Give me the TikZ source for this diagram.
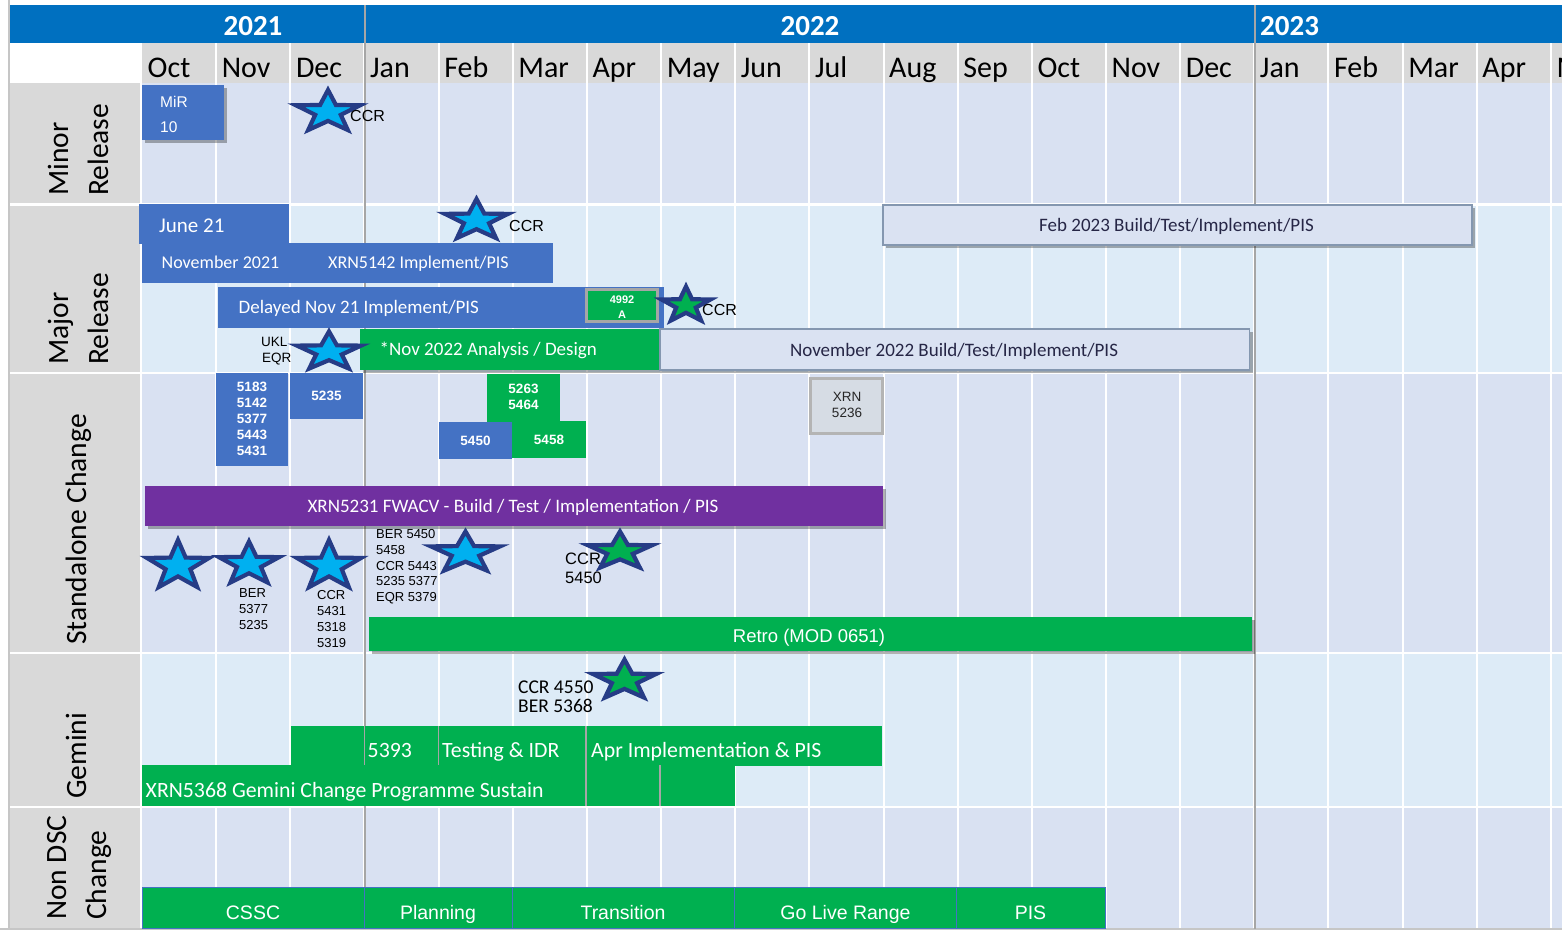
\documentclass[tikz,border=0pt]{standalone}
\usepackage{fontspec}
\setmainfont{Carlito}
\newfontfamily\arialf{Liberation Sans}
\usetikzlibrary{shadows}

\definecolor{yearblue}{HTML}{0070C0}
\definecolor{hdrgray}{HTML}{D9D9D9}
\definecolor{rowA}{HTML}{D9E1F2}
\definecolor{rowB}{HTML}{DDEBF7}
\definecolor{barblue}{HTML}{4472C4}
\definecolor{bargreen}{HTML}{00B050}
\definecolor{barpurple}{HTML}{7030A0}
\definecolor{starnavy}{HTML}{263C86}
\definecolor{starcyan}{HTML}{00B0F0}
\definecolor{lightbox}{HTML}{DAE2F2}
\definecolor{lightedge}{HTML}{8497B0}
\definecolor{darktext}{HTML}{262646}
\definecolor{yearline}{HTML}{A6A6A6}
\definecolor{xrnfill}{HTML}{D6DCE4}
\definecolor{xrnedge}{HTML}{B4B4B4}

\tikzset{
  ctext/.style={font={\fontsize{#1}{#1}\selectfont}, inner sep=0pt},
  atext/.style={font={\arialf\fontsize{#1}{#1}\selectfont}, inner sep=0pt},
  abold/.style={font={\arialf\bfseries\fontsize{#1}{#1}\selectfont}, inner sep=0pt},
  monthlab/.style={ctext=30, anchor=base west},
  yearlab/.style={font={\bfseries\fontsize{29}{29}\selectfont}, inner sep=0pt, text=white},
  rowlab/.style={ctext=29.5, rotate=90, anchor=base west},
  sh/.style={drop shadow={shadow xshift=3pt, shadow yshift=-3pt, opacity=0.3, fill=black}},
  starshape/.style={draw=starnavy, line width=4.2pt, line join=miter},
  gridw/.style={white, line width=2pt},
}

\def\sr{0.40}
\newcommand\drawstar[5]{%
  \begin{scope}[shift={(#1,#2)}, xscale=#3/1.902, yscale=#4/1.809, shift={(0,0.0955)}]
    \draw[starshape, fill=#5] (-90:1) -- (-54:\sr) -- (-18:1) -- (18:\sr) -- (54:1) -- (90:\sr)
      -- (126:1) -- (162:\sr) -- (198:1) -- (234:\sr) -- cycle;
  \end{scope}}

\begin{document}
\begin{tikzpicture}[x=1pt, y=-1pt]
\useasboundingbox (0,0) rectangle (1562,930);
\clip (0,0) rectangle (1562,930);
\fill[white] (0,0) rectangle (1562,930);

% ---------- backgrounds ----------
\fill[yearblue] (10,5) rectangle (1562,43);
\fill[hdrgray] (142,43) rectangle (1562,83);
\fill[hdrgray] (10,83) rectangle (141,928);
\fill[rowA] (142,83) rectangle (1562,204.5);
\fill[rowB] (142,204.5) rectangle (1562,373);
\fill[rowA] (142,373) rectangle (1562,653);
\fill[rowB] (142,653) rectangle (1562,807);
\fill[rowA] (142,807) rectangle (1562,928);
\draw[gray!45, line width=2pt] (0,929) -- (1562,929);
\draw[gray!45, line width=1.2pt] (9,0) -- (9,930);

% grid
\foreach \k in {1,...,19} \draw[gridw] ({142+74.15*\k},43) -- ({142+74.15*\k},928);
\draw[gridw] (141,83) -- (141,928);
\foreach \yy in {204.5,373,653,807} \draw[white, line width=2.5pt] (10,\yy) -- (1562,\yy);
\draw[yearline, line width=2pt] (364.5,5) -- (364.5,929);
\draw[yearline, line width=2pt] (1254.5,5) -- (1254.5,929);

% ---------- header text ----------
\node[yearlab, anchor=base] (y2021) at (253,35) {2021};
\node[yearlab, anchor=base] (y2022) at (810,35) {2022};
\node[yearlab, anchor=base west] (y2023) at (1260,35) {2023};
\foreach \m [count=\i from 0] in {Oct,Nov,Dec,Jan,Feb,Mar,Apr,May,Jun,Jul,Aug,Sep,Oct,Nov,Dec,Jan,Feb,Mar,Apr,May}
  \node[monthlab] (mon\i) at ({142+74.15*\i+5.5},77) {\m};

% ---------- row labels ----------
\node[rowlab] (rlminA) at (68,196) {Minor};
\node[rowlab] (rlminB) at (108,196) {Release};
\node[rowlab] (rlmajA) at (68,365) {Major};
\node[rowlab] (rlmajB) at (108,365) {Release};
\node[rowlab] (rlstd) at (86,645) {Standalone Change};
\node[rowlab] (rlgem) at (86,799) {Gemini};
\node[rowlab] (rlnonA) at (66,920) {Non DSC};
\node[rowlab] (rlnonB) at (106,920) {Change};

% ---------- Minor release ----------
\path[fill=barblue, sh] (142,85) rectangle (224,140);
\node[atext=15.5, text=white, anchor=base west] (mirA) at (160,107.5) {MiR};
\node[atext=15.5, text=white, anchor=base west] (mirB) at (160,132.5) {10};

% ---------- Major release ----------
\path[fill=lightbox, draw=lightedge, line width=1.2pt, sh] (883,205) rectangle (1472,245);
\node[ctext=19, text=darktext, anchor=base] (feb23) at (1176.5,231.5) {Feb 2023 Build/Test/Implement/PIS};
\fill[barblue] (139,204) rectangle (289,243.5);
\fill[barblue] (142,243) rectangle (553,283);
\node[ctext=21, text=white, anchor=base west] (jun21) at (159,232) {June 21};
\node[ctext=18, text=white, anchor=base west] (nov21) at (161.5,268.5) {November 2021};
\node[ctext=18, text=white, anchor=base west] (xrn5142) at (328,268.5) {XRN5142 Implement/PIS};
\fill[barblue] (218,287) rectangle (664,328);
\node[ctext=19, text=white, anchor=base west] (delayed) at (238.5,313) {Delayed Nov 21 Implement/PIS};
\path[fill=bargreen, draw=yearline, line width=3pt] (586.5,289.5) rectangle (657.5,321.5);
\node[abold=11, text=white, anchor=base] (b4992) at (622,303) {4992};
\node[abold=11, text=white, anchor=base] (b4992a) at (622,318) {A};
\path[fill=bargreen, sh] (360,329) rectangle (660,370);
\path[fill=lightbox, draw=lightedge, line width=1.2pt, sh] (660,329) rectangle (1249.5,370);
\node[ctext=19, text=white, anchor=base west] (nov22a) at (379.5,355) {*Nov 2022 Analysis / Design};
\node[ctext=19, text=darktext, anchor=base] (nov22b) at (954,356) {November 2022 Build/Test/Implement/PIS};

% ---------- Standalone change ----------
\fill[barblue] (216,373) rectangle (288,466);
\fill[barblue] (290,373) rectangle (363,419);
\fill[bargreen] (487,374) rectangle (560,422);
\fill[barblue] (439,422) rectangle (512,459);
\fill[bargreen] (512,421) rectangle (586,458);
\foreach \t [count=\i from 0] in {5183,5142,5377,5443,5431}
  \node[abold=13.5, text=white, anchor=base] (sb\i) at (252,{391.8+15.8*\i}) {\t};
\node[abold=13.5, text=white, anchor=base] (s5235) at (326.5,400) {5235};
\node[abold=13.5, text=white, anchor=base] (s5263) at (523.5,393.8) {5263};
\node[abold=13.5, text=white, anchor=base] (s5464) at (523.5,409.6) {5464};
\node[abold=13.5, text=white, anchor=base] (s5450) at (475.5,445.5) {5450};
\node[abold=13.5, text=white, anchor=base] (s5458) at (549,444) {5458};
\path[fill=xrnfill, draw=xrnedge, line width=3pt] (810.5,378.5) rectangle (882.5,433.5);
\node[atext=13.5, text=black!85, anchor=base] (xrnA) at (847,401.6) {XRN};
\node[atext=13.5, text=black!85, anchor=base] (xrnB) at (847,417.6) {5236};
\path[fill=barpurple, sh] (145,486) rectangle (883,526);
\node[ctext=19, text=white, anchor=base] (fwacv) at (513,512) {XRN5231 FWACV - Build / Test / Implementation / PIS};
\path[fill=bargreen, sh] (369,617) rectangle (1252,651);
\node[atext=18.5, text=white, anchor=base] (retro) at (809,642.6) {Retro (MOD 0651)};

% ---------- Gemini ----------
\fill[bargreen] (291,726) rectangle (882,765.5);
\fill[bargreen] (142,765) rectangle (735,806);
\draw[yearline, line width=1.5pt] (364.5,726) -- (364.5,765);
\draw[yearline, line width=1.5pt] (438.5,726) -- (438.5,765);
\draw[yearline, line width=1.5pt] (586,726) -- (586,806);
\draw[yearline, line width=1.5pt] (660,765) -- (660,806);
\node[ctext=21.8, text=white, anchor=base west] (g5393) at (367.5,757) {5393};
\node[ctext=21.8, text=white, anchor=base west] (gtest) at (442,757) {Testing \& IDR};
\node[ctext=21.8, text=white, anchor=base west] (gapr) at (591,757) {Apr Implementation \& PIS};
\node[ctext=21.8, text=white, anchor=base west] (gxrn) at (145.5,797) {XRN5368 Gemini Change Programme Sustain};

% ---------- Non DSC ----------
\path[fill=bargreen, draw=barblue, line width=1pt] (142,887) rectangle (1105,928);
\foreach \xx in {364.5,512.5,734.5,956.5} \draw[barblue, line width=1pt] (\xx,887) -- (\xx,928);
\node[atext=19.5, text=white, anchor=base] (ncssc) at (253,919) {CSSC};
\node[atext=19.5, text=white, anchor=base] (nplan) at (438,919) {Planning};
\node[atext=19.5, text=white, anchor=base] (ntrans) at (623,919) {Transition};
\node[atext=19.5, text=white, anchor=base] (ngolive) at (845.5,919) {Go Live Range};
\node[atext=19.5, text=white, anchor=base] (npis) at (1030.5,919) {PIS};

% ---------- stars ----------
\drawstar{328}{110}{64}{40}{starcyan}
\drawstar{476.5}{218.5}{63}{39}{starcyan}
\drawstar{686}{303.5}{49}{34}{bargreen}
\drawstar{329}{350}{64}{37}{starcyan}
\drawstar{178}{563.5}{62}{47}{starcyan}
\drawstar{249}{562}{60}{41}{starcyan}
\drawstar{329}{563.5}{64}{47}{starcyan}
\drawstar{465.5}{551}{69}{39}{starcyan}
\drawstar{620}{549.5}{64}{36}{bargreen}
\drawstar{624.5}{678.5}{63}{38}{bargreen}

% ---------- star labels ----------
\node[atext=16, anchor=base west] (ccrA) at (350,121.5) {CCR};
\node[atext=16, anchor=base west] (ccrB) at (509,231.5) {CCR};
\node[atext=16, anchor=base west] (ccrC) at (702,315.5) {CCR};
\node[atext=13.5, anchor=base west] (ukl) at (261,346.8) {UKL};
\node[atext=13.5, anchor=base west] (eqr) at (262,362.8) {EQR};
\foreach \t [count=\i from 0] in {BER,5377,5235}
  \node[atext=13, anchor=base west] (lb\i) at (239,{597.7+16*\i}) {\t};
\foreach \t [count=\i from 0] in {CCR,5431,5318,5319}
  \node[atext=13, anchor=base west] (lc\i) at (317,{599.7+16*\i}) {\t};
\foreach \t [count=\i from 0] in {BER 5450,5458,CCR 5443,5235 5377,EQR 5379}
  \node[atext=13, anchor=base west] (ld\i) at (376,{538.7+15.75*\i}) {\t};
\node[atext=16.5, anchor=base west] (leA) at (565,564.9) {CCR};
\node[atext=16.5, anchor=base west] (leB) at (565,583.9) {5450};
\node[ctext=19.5, anchor=base west] (lgA) at (518,693.2) {CCR 4550};
\node[ctext=19.5, anchor=base west] (lgB) at (518,712.7) {BER 5368};
\end{tikzpicture}
\end{document}
